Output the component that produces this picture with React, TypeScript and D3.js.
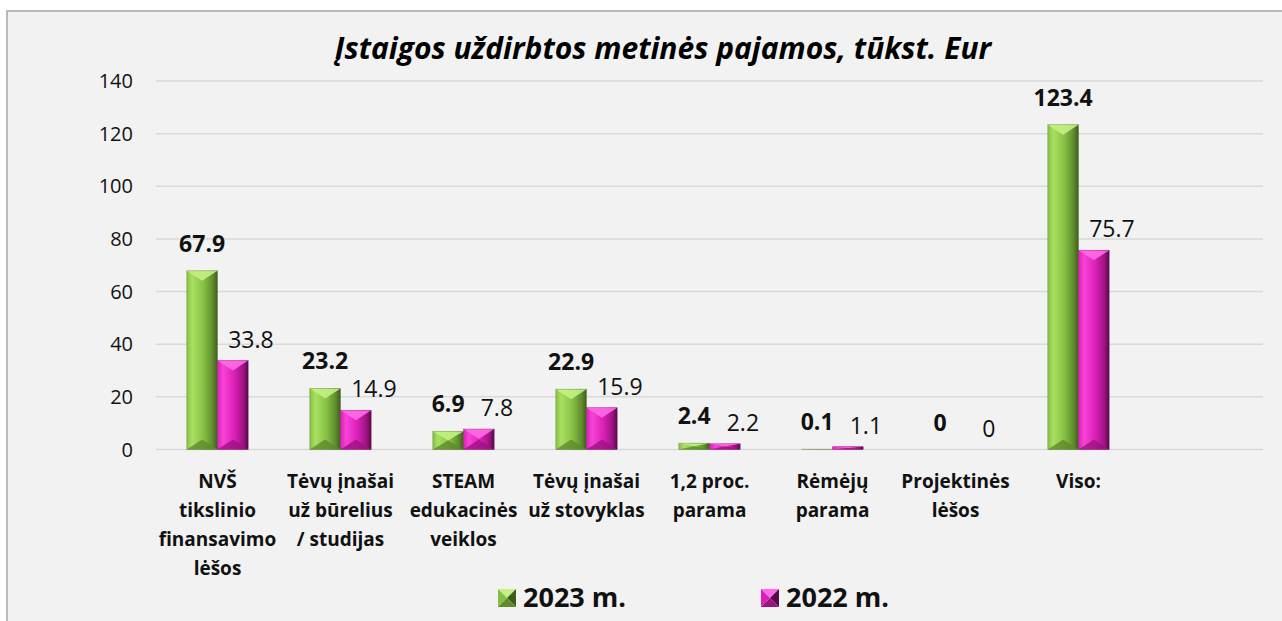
import * as d3 from "d3";

const categories = [
  "NVŠ\ntikslinio\nfinansavimo\nlėšos",
  "Tėvų įnašai\nuž būrelius\n/ studijas",
  "STEAM\nedukacinės\nveiklos",
  "Tėvų įnašai\nuž stovyklas",
  "1,2 proc.\nparama",
  "Rėmėjų\nparama",
  "Projektinės\nlėšos",
  "Viso:",
];
const seriesNames = ["2023 m.", "2022 m."];
const values2023 = [67.9, 23.2, 6.9, 22.9, 2.4, 0.1, 0, 123.4];
const values2022 = [33.8, 14.9, 7.8, 15.9, 2.2, 1.1, 0, 75.7];
const yTicks = [0, 20, 40, 60, 80, 100, 120, 140];
const title = "Įstaigos uždirbtos metinės pajamos, tūkst. Eur";

const W = 1282;
const H = 621;
const font = "'Open Sans', 'Noto Sans', sans-serif";

// colours per series: left light, mid, right dark, top facet, bottom facet
const palette = [
  { light: "#a9e062", mid: "#86c043", dark: "#3f5c1c", top: "#c2f283", bottom: "#5d8a2c" },
  { light: "#f843d8", mid: "#dc1fb8", dark: "#5a0948", top: "#ff6ae6", bottom: "#9a1480" },
];

function Bar({ x, y, w, h, s }: { x: number; y: number; w: number; h: number; s: number }) {
  if (h <= 0) return null;
  const b = Math.min(10, h / 2);
  const c = palette[s];
  return (
    <g>
      <rect x={x} y={y} width={w} height={h} fill={`url(#grad${s})`} />
      <polygon points={`${x},${y} ${x + w},${y} ${x + w / 2},${y + b}`} fill={c.top} opacity={0.9} />
      <polygon points={`${x},${y + h} ${x + w},${y + h} ${x + w / 2},${y + h - b}`} fill={c.bottom} opacity={0.8} />
      <rect x={x} y={y} width={w} height={h} fill="none" stroke={c.dark} strokeOpacity={0.35} strokeWidth={0.8} />
    </g>
  );
}

function LegendBox({ x, y, s }: { x: number; y: number; s: number }) {
  const c = palette[s];
  const z = 18;
  const cx = x + z / 2;
  const cy = y + z / 2;
  return (
    <g>
      <polygon points={`${x},${y} ${x + z},${y} ${cx},${cy}`} fill={c.top} />
      <polygon points={`${x},${y} ${x},${y + z} ${cx},${cy}`} fill={c.mid} />
      <polygon points={`${x + z},${y} ${x + z},${y + z} ${cx},${cy}`} fill={c.dark} />
      <polygon points={`${x},${y + z} ${x + z},${y + z} ${cx},${cy}`} fill={c.bottom} />
    </g>
  );
}

export default function App() {
  const plot = { left: 156, right: 1263, top: 81, bottom: 449.5 };

  // one empty slot after the last category, as in the original
  const x = d3.scaleBand<string>().domain([...categories, ""]).range([plot.left, plot.right]);
  const inner = d3
    .scaleBand<string>()
    .domain(seriesNames)
    .range([0, x.bandwidth()])
    .paddingInner(0)
    .paddingOuter(1);
  const y = d3.scaleLinear().domain([0, 140]).range([plot.bottom, plot.top]);

  const series = [values2023, values2022];
  const legendX = [498, 761];

  return (
    <svg
      width={W}
      height={H}
      style={{ position: "absolute", left: 0, top: 0, background: "#fff" }}
      fontFamily={font}
    >
      <defs>
        {palette.map((c, i) => (
          <linearGradient key={i} id={`grad${i}`} x1="0" x2="1" y1="0" y2="0">
            <stop offset="0%" stopColor={c.mid} />
            <stop offset="18%" stopColor={c.light} />
            <stop offset="55%" stopColor={c.mid} />
            <stop offset="85%" stopColor={c.bottom} />
            <stop offset="100%" stopColor={c.dark} />
          </linearGradient>
        ))}
      </defs>

      <rect x={7} y={11} width={W} height={H} fill="#f2f2f2" stroke="#a6a6a6" strokeWidth={1.5} />

      <text x={663} y={59} textAnchor="middle" fontSize={30} fontWeight="bold" fontStyle="italic">
        {title}
      </text>

      {/* grid + y ticks */}
      {yTicks.map((t) => (
        <g key={t}>
          <line x1={plot.left} x2={plot.right} y1={y(t)} y2={y(t)} stroke="#d9d9d9" strokeWidth={1.5} />
          <text x={133} y={y(t)} dy="0.35em" textAnchor="end" fontSize={20} fill="#111">
            {t}
          </text>
        </g>
      ))}

      {/* bars */}
      {categories.map((cat, i) => (
        <g key={cat}>
          {series.map((vals, s) => {
            const bx = (x(cat) ?? 0) + (inner(seriesNames[s]) ?? 0);
            const bw = inner.bandwidth();
            const top = y(vals[i]);
            return <Bar key={s} x={bx} y={top} w={bw} h={plot.bottom - top} s={s} />;
          })}
        </g>
      ))}

      {/* data labels */}
      {categories.map((cat, i) =>
        series.map((vals, s) => {
          const bx = (x(cat) ?? 0) + (inner(seriesNames[s]) ?? 0) + inner.bandwidth() / 2;
          const top = y(vals[i]);
          return (
            <text
              key={`${i}-${s}`}
              x={s === 0 ? bx : bx + 18}
              y={top - (s === 0 ? 19 : 13)}
              textAnchor="middle"
              fontSize={23}
              fontWeight={s === 0 ? "bold" : "normal"}
              fill="#111"
            >
              {vals[i]}
            </text>
          );
        })
      )}

      {/* category labels */}
      {categories.map((cat) => {
        const cx = (x(cat) ?? 0) + x.bandwidth() / 2;
        return (
          <text key={cat} x={cx} y={488} textAnchor="middle" fontSize={19} fontWeight="bold" fill="#111">
            {cat.split("\n").map((line, k) => (
              <tspan key={k} x={cx} dy={k === 0 ? 0 : 29}>
                {line}
              </tspan>
            ))}
          </text>
        );
      })}

      {/* legend */}
      {seriesNames.map((name, s) => (
        <g key={name}>
          <LegendBox x={legendX[s]} y={589} s={s} />
          <text x={legendX[s] + 25} y={598} dy="0.35em" fontSize={27} fontWeight="bold" fill="#111">
            {name}
          </text>
        </g>
      ))}
    </svg>
  );
}
